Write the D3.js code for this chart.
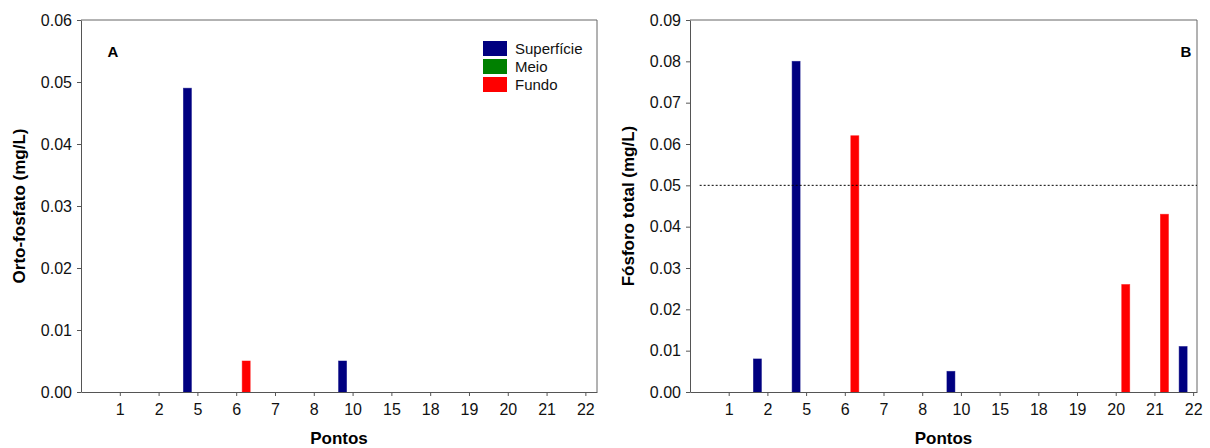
<!DOCTYPE html>
<html>
  <head>
    <meta charset="utf-8">
    <script src="https://d3js.org/d3.v7.min.js"></script>
    <style>
      body { margin: 0; background: #fff; }
      svg { display: block; font-family: "Liberation Sans", Arial, sans-serif; }
    </style>
  </head>
  <body>
    <svg width="1210" height="448"></svg>
    <script>
      // categorias (pontos de coleta)
      var pontos = ["1", "2", "5", "6", "7", "8", "10", "15", "18", "19", "20", "21", "22"];
      var camadas = ["Superfície", "Meio", "Fundo"];
      var cores = ["#000080", "#008000", "#ff0000"];

      // A - orto-fosfato (mg/L)
      var ortoSuperficie = [0, 0, 0.049, 0, 0, 0, 0.005, 0, 0, 0, 0, 0, 0];
      var ortoMeio       = [0, 0, 0, 0, 0, 0, 0, 0, 0, 0, 0, 0, 0];
      var ortoFundo      = [0, 0, 0, 0.005, 0, 0, 0, 0, 0, 0, 0, 0, 0];
      var ortoTicks = [0, 0.01, 0.02, 0.03, 0.04, 0.05, 0.06];

      // B - fosforo total (mg/L)
      var ptSuperficie = [0, 0.008, 0.08, 0, 0, 0, 0.005, 0, 0, 0, 0, 0, 0.011];
      var ptMeio       = [0, 0, 0, 0, 0, 0, 0, 0, 0, 0, 0, 0, 0];
      var ptFundo      = [0, 0, 0, 0.062, 0, 0, 0, 0, 0, 0, 0.026, 0.043, 0];
      var ptTicks = [0, 0.01, 0.02, 0.03, 0.04, 0.05, 0.06, 0.07, 0.08, 0.09];
      var ptLimite = 0.05;

      var svg = d3.select("svg");

      function painel(opt) {
        var xScale = d3.scaleLinear().domain([0, opt.xMax]).range([opt.left, opt.right]);
        var yScale = d3.scaleLinear().domain([0, opt.yMax]).range([392, 20]);
        var g = svg.append("g");

        // moldura (topo e direita)
        g.append("path")
          .attr("d", "M" + opt.left + ",20H" + opt.right + "V392")
          .attr("fill", "none").attr("stroke", "#666").attr("stroke-width", 1);

        // barras
        var offsets = [-10, 0, 10];
        var bw = 8;
        opt.series.forEach(function(vals, s) {
          g.selectAll(null).data(vals).enter().append("rect")
            .attr("x", function(d, i) { return xScale(i + 1) + offsets[s] - bw / 2; })
            .attr("y", function(d) { return yScale(d); })
            .attr("width", bw)
            .attr("height", function(d) { return yScale(0) - yScale(d); })
            .attr("fill", cores[s])
            .attr("stroke", cores[s])
            .attr("stroke-opacity", 0.6)
            .attr("stroke-width", 0.8);
        });

        // linha de referencia
        if (opt.limite != null) {
          g.append("line")
            .attr("x1", xScale(0.25)).attr("x2", opt.right)
            .attr("y1", yScale(opt.limite)).attr("y2", yScale(opt.limite))
            .attr("stroke", "#000").attr("stroke-width", 1)
            .attr("stroke-dasharray", "2,2");
        }

        // eixos
        var xAxis = d3.axisBottom(xScale)
          .tickValues(d3.range(1, pontos.length + 1))
          .tickFormat(function(d) { return pontos[d - 1]; })
          .tickSize(4).tickSizeOuter(0).tickPadding(8);
        var yAxis = d3.axisLeft(yScale)
          .tickValues(opt.ticks)
          .tickFormat(d3.format(".2f"))
          .tickSize(4).tickSizeOuter(0).tickPadding(5);

        var gx = g.append("g").attr("transform", "translate(0,392)").call(xAxis);
        var gy = g.append("g").attr("transform", "translate(" + opt.left + ",0)").call(yAxis);
        [gx, gy].forEach(function(ax) {
          ax.selectAll("path, line").attr("stroke", "#555");
          ax.selectAll("text").attr("font-size", 16).attr("fill", "#111")
            .attr("font-family", "Liberation Sans, Arial, sans-serif");
        });

        // titulos
        g.append("text")
          .attr("x", (opt.left + opt.right) / 2).attr("y", 444)
          .attr("text-anchor", "middle")
          .attr("font-size", 17).attr("font-weight", "bold")
          .text("Pontos");
        g.append("text")
          .attr("transform", "translate(" + opt.titleX + ",206) rotate(-90)")
          .attr("text-anchor", "middle")
          .attr("font-size", 17).attr("font-weight", "bold")
          .text(opt.titulo);
        g.append("text")
          .attr("x", opt.letraX).attr("y", 57)
          .attr("text-anchor", "middle")
          .attr("font-size", 15).attr("font-weight", "bold")
          .text(opt.letra);
      }

      painel({
        left: 81, right: 597, xMax: 13.3, yMax: 0.06,
        series: [ortoSuperficie, ortoMeio, ortoFundo],
        ticks: ortoTicks, titulo: "Orto-fosfato (mg/L)", titleX: 25,
        letra: "A", letraX: 113
      });
      painel({
        left: 690, right: 1197, xMax: 13.1, yMax: 0.09,
        series: [ptSuperficie, ptMeio, ptFundo],
        ticks: ptTicks, titulo: "Fósforo total (mg/L)", titleX: 634,
        letra: "B", letraX: 1186, limite: ptLimite
      });

      // legenda (painel A)
      var leg = svg.append("g").attr("transform", "translate(483,41)");
      camadas.forEach(function(c, i) {
        leg.append("rect").attr("x", 0).attr("y", i * 18)
          .attr("width", 24).attr("height", 15).attr("fill", cores[i]);
        leg.append("text").attr("x", 32).attr("y", i * 18 + 13)
          .attr("font-size", 15).attr("fill", "#111").text(c);
      });
    </script>
  </body>
</html>
